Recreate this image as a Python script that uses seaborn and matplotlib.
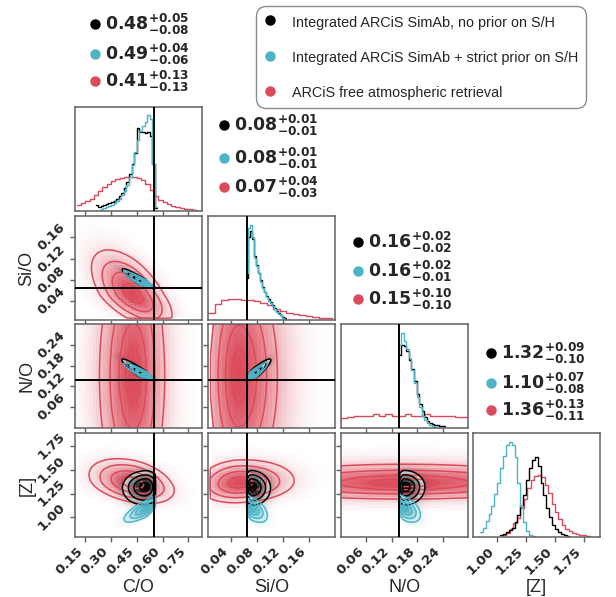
import numpy as np
import pandas as pd
import matplotlib
matplotlib.use("Agg")
import matplotlib.pyplot as plt
import seaborn as sns
from matplotlib.colors import LinearSegmentedColormap, to_rgb
from matplotlib.lines import Line2D

sns.set_style("ticks")
plt.rcParams['font.family'] = ['DejaVu Sans']

# parameters / axes
labels = ['C/O', 'Si/O', 'N/O', '[Z]']
truths = [0.55, 0.065, 0.138, None]
lims = [(0.09, 0.83), (0.005, 0.20), (0.0, 0.30), (0.79, 1.89)]
ticks = [[0.15, 0.30, 0.45, 0.60, 0.75],
         [0.04, 0.08, 0.12, 0.16],
         [0.06, 0.12, 0.18, 0.24],
         [1.00, 1.25, 1.50, 1.75]]

runs = ['Integrated ARCiS SimAb, no prior on S/H',
        'Integrated ARCiS SimAb + strict prior on S/H',
        'ARCiS free atmospheric retrieval']
colors = ['#000000', '#4db3c6', '#dc4b5b']

# quoted medians and errors
med_black = [0.48, 0.08, 0.16, 1.32]
up_black = [0.05, 0.01, 0.02, 0.09]
lo_black = [0.08, 0.01, 0.02, 0.10]
med_cyan = [0.49, 0.08, 0.16, 1.10]
up_cyan = [0.04, 0.01, 0.02, 0.07]
lo_cyan = [0.06, 0.01, 0.01, 0.08]
med_red = [0.41, 0.07, 0.15, 1.36]
up_red = [0.13, 0.04, 0.10, 0.13]
lo_red = [0.13, 0.03, 0.10, 0.11]

# 1D marginals: (first edge, bin width, heights)
co_black = (0.21, 0.015, [0.06, 0.04, 0.05, 0.06, 0.07, 0.08, 0.09, 0.10, 0.12, 0.14, 0.17, 0.22,
                          0.28, 0.36, 0.45, 0.56, 0.80, 0.76, 0.76, 0.75, 0.76, 0.72, 0.45, 0.03])
co_cyan = (0.21, 0.015, [0.0, 0.0, 0.02, 0.03, 0.04, 0.05, 0.06, 0.08, 0.10, 0.12, 0.15, 0.19,
                         0.25, 0.33, 0.44, 0.57, 0.68, 0.77, 0.82, 0.86, 0.92, 0.88, 0.45, 0.04])
co_red = (0.10, 0.025, [0.06, 0.08, 0.10, 0.12, 0.15, 0.19, 0.23, 0.26, 0.29, 0.31, 0.32, 0.33,
                        0.33, 0.33, 0.32, 0.30, 0.26, 0.20, 0.14, 0.11, 0.09, 0.07, 0.05, 0.04,
                        0.03, 0.02, 0.015, 0.01])

sio_black = (0.064, 0.003, [0.40, 0.80, 0.86, 0.78, 0.62, 0.53, 0.45, 0.38, 0.32, 0.27,
                            0.23, 0.20, 0.17, 0.14, 0.12, 0.09, 0.07, 0.05, 0.03, 0.02])
sio_cyan = (0.064, 0.003, [0.45, 0.88, 0.91, 0.80, 0.60, 0.52, 0.45, 0.37, 0.31, 0.27,
                           0.22, 0.18, 0.16, 0.13, 0.11, 0.08, 0.06, 0.05, 0.02, 0.01])
sio_red = (0.005, 0.01, [0.07, 0.15, 0.19, 0.20, 0.20, 0.19, 0.19, 0.18, 0.16, 0.14,
                         0.11, 0.09, 0.07, 0.055, 0.045, 0.035, 0.025, 0.02, 0.015])

no_black = (0.1365, 0.006, [0.70, 0.80, 0.79, 0.74, 0.65, 0.57, 0.45, 0.33, 0.23, 0.16,
                            0.11, 0.07, 0.05, 0.035, 0.03, 0.025, 0.02, 0.02])
no_cyan = (0.1365, 0.006, [0.80, 0.91, 0.84, 0.76, 0.67, 0.56, 0.43, 0.30, 0.20, 0.12,
                           0.08, 0.05, 0.03, 0.015, 0.008, 0.004, 0.0, 0.0])
no_red = (0.0, 0.015, [0.10, 0.11, 0.12, 0.12, 0.12, 0.13, 0.12, 0.13, 0.12, 0.12,
                       0.13, 0.12, 0.12, 0.13, 0.12, 0.12, 0.12, 0.12, 0.11, 0.11])

z_black = (1.025, 0.025, [0.02, 0.03, 0.05, 0.07, 0.09, 0.14, 0.21, 0.30, 0.40, 0.55, 0.66, 0.74,
                          0.77, 0.68, 0.52, 0.40, 0.28, 0.19, 0.12, 0.08, 0.05, 0.03, 0.015, 0.01])
z_cyan = (0.85, 0.025, [0.05, 0.09, 0.15, 0.22, 0.30, 0.41, 0.52, 0.66, 0.78, 0.88, 0.91, 0.88,
                        0.77, 0.52, 0.30, 0.14, 0.06, 0.02, 0.01])
z_red = (1.05, 0.03, [0.02, 0.04, 0.08, 0.13, 0.18, 0.28, 0.37, 0.47, 0.55, 0.59, 0.60, 0.58, 0.50,
                      0.42, 0.32, 0.24, 0.17, 0.12, 0.08, 0.055, 0.04, 0.03, 0.02, 0.015, 0.01])

# 2D posterior shapes (mode, lower / upper width, pair correlations, prior bounds)
peak_black = [0.50, 0.072, 0.150, 1.32]
wlo_black = [0.07, 0.006, 0.010, 0.10]
whi_black = [0.045, 0.015, 0.025, 0.09]
corr_black = {(0, 1): -0.95, (0, 2): -0.95, (1, 2): 0.93, (0, 3): 0.05, (1, 3): -0.05, (2, 3): 0.0}
bounds_black = [(None, 0.56), (0.064, None), (0.137, None), (None, None)]

peak_cyan = [0.51, 0.071, 0.149, 1.10]
wlo_cyan = [0.07, 0.006, 0.010, 0.08]
whi_cyan = [0.04, 0.013, 0.020, 0.07]
corr_cyan = {(0, 1): -0.95, (0, 2): -0.95, (1, 2): 0.93, (0, 3): 0.8, (1, 3): -0.55, (2, 3): -0.5}
bounds_cyan = [(None, 0.56), (0.064, None), (0.137, None), (None, None)]

peak_red = [0.43, 0.052, 0.15, 1.36]
wlo_red = [0.13, 0.033, 0.24, 0.11]
whi_red = [0.12, 0.045, 0.24, 0.13]
corr_red = {(0, 1): -0.6, (0, 2): 0.0, (1, 2): 0.0, (0, 3): -0.35, (1, 3): 0.1, (2, 3): 0.0}
bounds_red = [(None, None), (0.008, None), (0.0, 0.30), (None, None)]

hists = {'black': [co_black, sio_black, no_black, z_black],
         'cyan': [co_cyan, sio_cyan, no_cyan, z_cyan],
         'red': [co_red, sio_red, no_red, z_red]}
shapes = {'black': (peak_black, wlo_black, whi_black, corr_black, bounds_black),
          'cyan': (peak_cyan, wlo_cyan, whi_cyan, corr_cyan, bounds_cyan),
          'red': (peak_red, wlo_red, whi_red, corr_red, bounds_red)}
quoted = {'black': (med_black, up_black, lo_black),
          'cyan': (med_cyan, up_cyan, lo_cyan),
          'red': (med_red, up_red, lo_red)}
names = ['black', 'cyan', 'red']
col = dict(zip(names, colors))
draw_order = ['red', 'black', 'cyan']
fracs = [0.118, 0.393, 0.675, 0.865]


def split_z(x, m, a, b):
    return np.where(x < m, (x - m) / a, (x - m) / b)


def density(run, i, j, X, Y):
    # X along parameter j, Y along parameter i
    pk, wl, wh, cr, bd = shapes[run]
    zx = split_z(X, pk[j], wl[j], wh[j])
    zy = split_z(Y, pk[i], wl[i], wh[i])
    r = cr[(min(i, j), max(i, j))]
    d = np.exp(-0.5 * (zx ** 2 - 2 * r * zx * zy + zy ** 2) / (1 - r ** 2))
    for k, V in ((j, X), (i, Y)):
        lo, hi = bd[k]
        if lo is not None:
            d[V < lo] = 0
        if hi is not None:
            d[V > hi] = 0
    return d


def mass_levels(d):
    flat = np.sort(d.ravel())[::-1]
    cum = np.cumsum(flat)
    cum /= cum[-1]
    v = sorted(set(flat[np.searchsorted(cum, f)] for f in fracs))
    return v


W, H = 616, 597
fig = plt.figure(figsize=(W / 100, H / 100), dpi=100)
col_x = [75, 208, 341, 473]
row_y = [107, 216, 324, 433]
pw, ph = 127, 104
spine_c = '#606060'

axes = {}
for i in range(4):
    for j in range(i + 1):
        ax = fig.add_axes([col_x[j] / W, 1 - (row_y[i] + ph) / H, pw / W, ph / H])
        axes[(i, j)] = ax
        if i == j:
            for run in draw_order:
                start, w, h = hists[run][i]
                edges = start + w * np.arange(len(h) + 1)
                df = pd.DataFrame({'x': edges[:-1] + w / 2, 'w': h})
                sns.histplot(data=df, x='x', weights='w', bins=list(edges), element='step',
                             fill=False, color=col[run], linewidth=1.0, ax=ax)
            ax.set_ylim(0, 1.0)
            ax.set_yticks([])
        else:
            xl, yl = lims[j], lims[i]
            fx = np.linspace(xl[0], xl[1], 150)
            fy = np.linspace(yl[0], yl[1], 150)
            FX, FY = np.meshgrid(fx, fy)
            for run in draw_order:
                c = to_rgb(col[run])
                nb = 36 if run == 'red' else 60
                ex = np.linspace(xl[0], xl[1], nb + 1)
                ey = np.linspace(yl[0], yl[1], nb + 1)
                CX, CY = np.meshgrid((ex[:-1] + ex[1:]) / 2, (ey[:-1] + ey[1:]) / 2)
                cd = density(run, i, j, CX, CY)
                fd = density(run, i, j, FX, FY)
                lv = mass_levels(fd)
                ax.contourf(FX, FY, fd, [lv[0], fd.max() * 1.01], colors=['white'], antialiased=False)
                cmap = LinearSegmentedColormap.from_list('d_' + run, [c + (0.0,), c + (1.0,)])
                keep = cd.ravel() > cd.max() * 0.01
                df2 = pd.DataFrame({'x': CX.ravel()[keep], 'y': CY.ravel()[keep],
                                    'w': cd.ravel()[keep]})
                sns.histplot(data=df2, x='x', y='y', weights='w',
                             bins=(list(ex), list(ey)), cmap=cmap, ax=ax, cbar=False)
                ax.contour(FX, FY, fd, lv, colors=[col[run]], linewidths=1.1)
            ax.set_ylim(*lims[i])
            ax.set_yticks(ticks[i])
            if truths[i] is not None:
                ax.axhline(truths[i], color='black', lw=1.4, zorder=10)
        ax.set_xlim(*lims[j])
        ax.set_xticks(ticks[j])
        if truths[j] is not None:
            ax.axvline(truths[j], color='black', lw=1.4, zorder=10)
        ax.set_xlabel('')
        ax.set_ylabel('')
        if i == 3:
            ax.set_xticklabels(['%.2f' % t for t in ticks[j]], rotation=45, ha='right',
                               fontweight='bold', fontsize=9.5)
            ax.set_xlabel(labels[j], family='Liberation Sans', fontsize=13)
            ax.xaxis.set_label_coords(0.5, -0.40)
        else:
            ax.set_xticklabels([])
        if j == 0 and i > 0:
            ax.set_yticklabels(['%.2f' % t for t in ticks[i]], rotation=45, va='center',
                               fontweight='bold', fontsize=9.5)
            ax.set_ylabel(labels[i], family='Liberation Sans', fontsize=13)
            ax.yaxis.set_label_coords(-0.31, 0.5)
        elif i != j:
            ax.set_yticklabels([])
        for s in ax.spines.values():
            s.set_color(spine_c)
            s.set_linewidth(1.1)
        ax.tick_params(color=spine_c, length=3.5, width=1.0, pad=2)

# quoted values above each marginal
blocks = [(95, [24, 54, 81]), (224, [125, 158, 187]), (358, [242, 271, 299]), (491, [353, 383, 410])]
for k, (bx, ys) in enumerate(blocks):
    for run, by in zip(names, ys):
        m, u, l = (v[k] for v in quoted[run])
        fig.add_artist(Line2D([bx / W], [1 - by / H], marker='o', ms=6.5, color=col[run],
                              transform=fig.transFigure))
        txt = r'$\mathbf{%.2f}^{\mathbf{+%.2f}}_{\mathbf{-%.2f}}$' % (m, u, l)
        fig.text((bx + 10) / W, 1 - by / H, txt, fontsize=12.5, va='center', ha='left')

handles = [Line2D([], [], ls='none', marker='o', ms=6.5, color=c) for c in colors]
leg = fig.legend(handles, runs, loc='upper left', bbox_to_anchor=(256 / W, 1 - 6 / H),
                 frameon=True, fancybox=True, edgecolor='#8c8c8c', framealpha=1,
                 prop={'family': 'Liberation Sans', 'size': 10.4}, labelspacing=1.36,
                 handlelength=0.8, handleheight=1.3, handletextpad=1.15, borderpad=0.55,
                 borderaxespad=0)
leg.get_frame().set_boxstyle('round', pad=0, rounding_size=0.7)

fig.savefig('out.png', dpi=100)
